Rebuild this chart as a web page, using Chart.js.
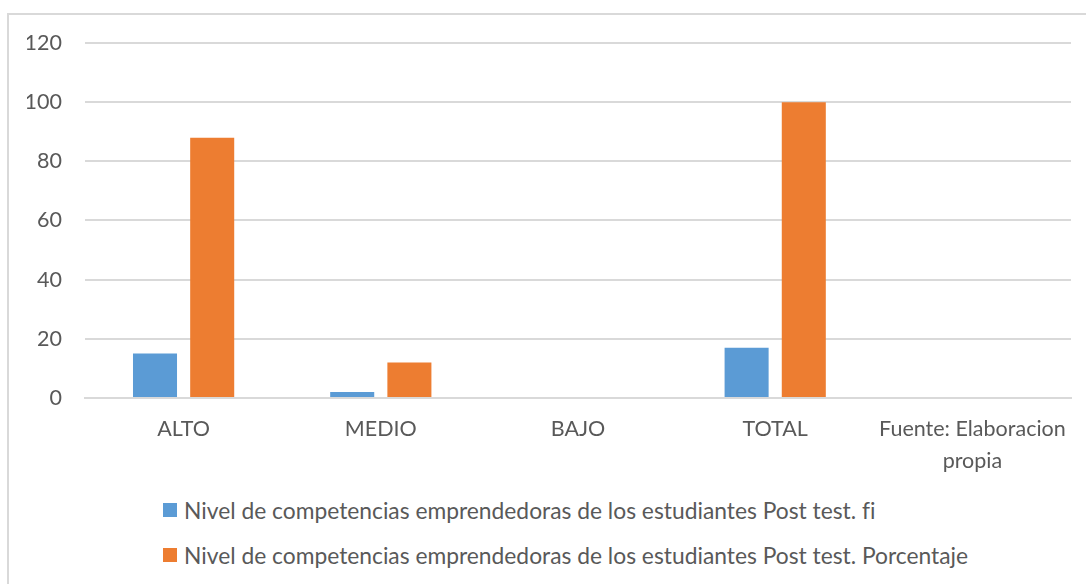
<!DOCTYPE html>
<html>
<head>
<meta charset="utf-8">
<script src="https://cdn.jsdelivr.net/npm/chart.js@4.4.1/dist/chart.umd.min.js"></script>
<style>
  html, body { margin: 0; padding: 0; background: #fff; overflow: hidden; }
  #frame {
    position: absolute; left: 7px; top: 13px; width: 1090px; height: 600px;
    border-left: 2px solid #d9d9d9; border-top: 2px solid #d9d9d9;
  }
  #wrap { position: absolute; left: 0; top: 0; width: 1086px; height: 492px; }
  #legend {
    position: absolute; left: 163px; top: 493px;
    font-family: Lato, sans-serif; font-size: 22.8px; color: #595959;
    font-variant-ligatures: none;
  }
  .item { display: flex; align-items: center; height: 34px; margin-bottom: 11px; }
  .box { width: 14px; height: 14px; margin-right: 7px; }
</style>
</head>
<body>
<div id="frame"></div>
<div id="wrap"><canvas id="chart"></canvas></div>
<div id="legend"></div>
<script>
const categories = ['ALTO', 'MEDIO', 'BAJO', 'TOTAL', ['Fuente: Elaboracion', 'propia']];
const seriesNames = [
  'Nivel de competencias emprendedoras de los estudiantes Post test. fi',
  'Nivel de competencias emprendedoras de los estudiantes Post test. Porcentaje'
];
const fiValues = [15, 2, 0, 17, null];
const pctValues = [88, 12, 0, 100, null];
const yTicks = [0, 20, 40, 60, 80, 100, 120];
const colors = ['#5B9BD5', '#ED7D31'];

const textColor = '#595959';
const font = { family: 'Lato, sans-serif', size: 21.5 };

const chart = new Chart(document.getElementById('chart'), {
  type: 'bar',
  data: {
    labels: categories,
    datasets: [
      { label: seriesNames[0], data: fiValues, backgroundColor: colors[0] },
      { label: seriesNames[1], data: pctValues, backgroundColor: colors[1] }
    ]
  },
  options: {
    responsive: true,
    maintainAspectRatio: false,
    animation: false,
    layout: { padding: { left: 27, right: 15, top: 43, bottom: 0 } },
    datasets: { bar: { categoryPercentage: 0.58, barPercentage: 0.77 } },
    plugins: { legend: { display: false }, tooltip: { enabled: false } },
    scales: {
      x: {
        grid: { display: false, drawTicks: false },
        border: { color: '#d9d9d9', width: 2 },
        ticks: { color: textColor, font: { ...font, lineHeight: 1.49 }, padding: 15, maxRotation: 0, autoSkip: false }
      },
      y: {
        min: 0,
        max: 120,
        afterBuildTicks: axis => { axis.ticks = yTicks.map(v => ({ value: v })); },
        afterFit: axis => { axis.width = 58; },
        grid: { color: '#d9d9d9', lineWidth: 2, drawTicks: false },
        border: { display: false },
        ticks: { color: textColor, font: font, padding: 23 }
      }
    }
  }
});

// leyenda en HTML, alineada a la izquierda como en el original
const legendEl = document.getElementById('legend');
seriesNames.forEach((name, i) => {
  const row = document.createElement('div');
  row.className = 'item';
  row.innerHTML = '<span class="box" style="background:' + colors[i] + '"></span><span>' + name + '</span>';
  legendEl.appendChild(row);
});
</script>
</body>
</html>
